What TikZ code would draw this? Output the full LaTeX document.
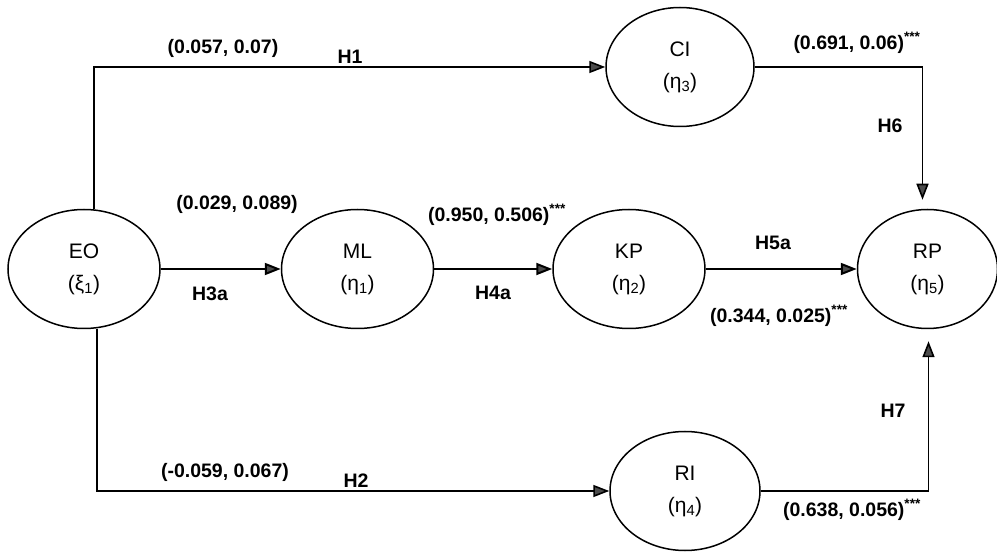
\documentclass[tikz,border=0pt]{standalone}
\usepackage{fontspec}
\setmainfont{Liberation Sans}
\usetikzlibrary{positioning,arrows.meta,shapes.geometric}

\begin{document}
\begin{tikzpicture}[x=1pt,y=-1pt,node distance=120pt,
  latent/.style={draw,line width=1.5pt,ellipse,minimum width=152pt,minimum height=119pt,
    inner sep=0pt,align=center,font=\fontsize{21}{32}\selectfont},
  link/.style={line width=2pt,-{Triangle[length=16pt,width=12pt,fill=black!70]}},
  elbow/.style={link,line width=1.6pt},
  coef/.style={font=\fontsize{19.5}{22}\selectfont\bfseries,inner sep=0pt}]
  \useasboundingbox (0,0) rectangle (997,553);
  \node (eo) [latent] at (84,269) {EO\\(ξ\textsubscript{1})};
  \node (ml) [latent,right=of eo] {ML\\(η\textsubscript{1})};
  \node (kp) [latent,right=118pt of ml] {KP\\(η\textsubscript{2})};
  \node (rp) [latent,minimum width=140pt,right=151pt of kp] {RP\\(η\textsubscript{5})};
  \node (ci) [latent,minimum width=148pt] at (680,67) {CI\\(η\textsubscript{3})};
  \node (ri) [latent,minimum width=150pt] at (685,491) {RI\\(η\textsubscript{4})};

  \draw[link] (eo) -- (ml);
  \draw[link] (ml) -- (kp);
  \draw[link] (kp) -- (rp);
  \draw[elbow] ([xshift=10pt]eo.north) |- (ci);
  \draw[elbow] ([xshift=13pt]eo.south) |- (ri);
  \draw[elbow,shorten >=9pt] (ci) -| ([xshift=-5pt]rp.north);
  \draw[elbow,shorten >=12pt] (ri) -| ([xshift=1pt]rp.south);

  \node (c1) [coef] at (223,48) {(0.057, 0.07)};
  \node (h1) [coef] at (350,57) {H1};
  \node (c3) [coef] at (237,204) {(0.029, 0.089)};
  \node (h3a) [coef] at (210,294) {H3a};
  \node (c4) [coef] at (497,215) {(0.950, 0.506)\textsuperscript{***}};
  \node (h4a) [coef] at (493,293) {H4a};
  \node (h5a) [coef] at (773,243) {H5a};
  \node (c5) [coef] at (779,316) {(0.344, 0.025)\textsuperscript{***}};
  \node (c6) [coef] at (857,43) {(0.691, 0.06)\textsuperscript{***}};
  \node (h6) [coef] at (890,126) {H6};
  \node (h7) [coef] at (893,411) {H7};
  \node (c7) [coef] at (852,510) {(0.638, 0.056)\textsuperscript{***}};
  \node (c2) [coef] at (225,472) {(-0.059, 0.067)};
  \node (h2) [coef] at (356,481) {H2};
\end{tikzpicture}
\end{document}
